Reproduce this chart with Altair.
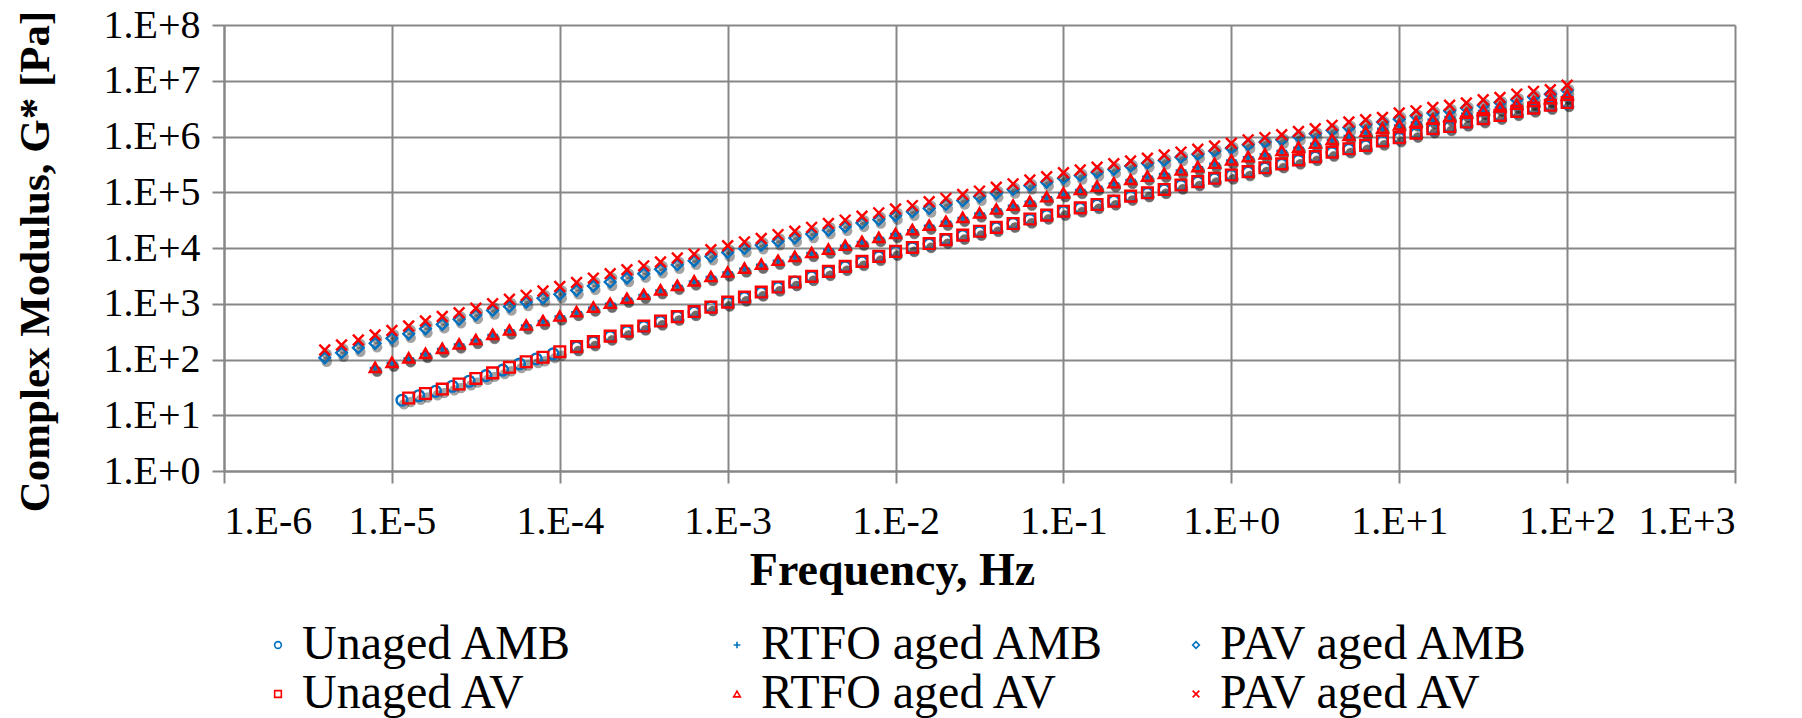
import altair as alt
import pandas as pd

# log10(frequency, Hz) grid shared by the series
LOG_FREQ = [-5.4, -5.3, -5.2, -5.1, -5.0, -4.9, -4.8, -4.7, -4.6, -4.5,
            -4.4, -4.3, -4.2, -4.1, -4.0, -3.9, -3.8, -3.7, -3.6, -3.5,
            -3.4, -3.3, -3.2, -3.1, -3.0, -2.9, -2.8, -2.7, -2.6, -2.5,
            -2.4, -2.3, -2.2, -2.1, -2.0, -1.9, -1.8, -1.7, -1.6, -1.5,
            -1.4, -1.3, -1.2, -1.1, -1.0, -0.9, -0.8, -0.7, -0.6, -0.5,
            -0.4, -0.3, -0.2, -0.1, 0.0, 0.1, 0.2, 0.3, 0.4, 0.5,
            0.6, 0.7, 0.8, 0.9, 1.0, 1.1, 1.2, 1.3, 1.4, 1.5,
            1.6, 1.7, 1.8, 1.9, 2.0]

UNAGED_AMB_LOG_FREQ = [-4.94, -4.84, -4.74, -4.64, -4.54, -4.44, -4.34, -4.24, -4.14, -4.04,
                       -3.9, -3.8, -3.7, -3.6, -3.5, -3.4, -3.3, -3.2, -3.1, -3.0,
                       -2.9, -2.8, -2.7, -2.6, -2.5, -2.4, -2.3, -2.2, -2.1, -2.0,
                       -1.9, -1.8, -1.7, -1.6, -1.5, -1.4, -1.3, -1.2, -1.1, -1.0,
                       -0.9, -0.8, -0.7, -0.6, -0.5, -0.4, -0.3, -0.2, -0.1, 0.0,
                       0.1, 0.2, 0.3, 0.4, 0.5, 0.6, 0.7, 0.8, 0.9, 1.0,
                       1.1, 1.2, 1.3, 1.4, 1.5, 1.6, 1.7, 1.8, 1.9, 2.0]

# log10(G*, Pa)
UNAGED_AMB = [1.27, 1.35, 1.43, 1.52, 1.61, 1.71, 1.81, 1.92, 2.01, 2.10,
              2.22, 2.31, 2.41, 2.50, 2.59, 2.68, 2.77, 2.85, 2.94, 3.02,
              3.11, 3.20, 3.29, 3.39, 3.48, 3.57, 3.66, 3.75, 3.84, 3.93,
              4.00, 4.07, 4.15, 4.22, 4.29, 4.36, 4.44, 4.51, 4.58, 4.65,
              4.71, 4.77, 4.84, 4.92, 4.98, 5.04, 5.12, 5.18, 5.24, 5.30,
              5.36, 5.43, 5.50, 5.57, 5.63, 5.71, 5.77, 5.83, 5.91, 5.97,
              6.05, 6.13, 6.17, 6.25, 6.31, 6.37, 6.44, 6.50, 6.55, 6.60]

RTFO_AMB = [1.85, 1.94, 2.02, 2.10, 2.19, 2.27, 2.35, 2.44, 2.52, 2.61,
            2.69, 2.77, 2.85, 2.93, 3.00, 3.09, 3.16, 3.24, 3.32, 3.40,
            3.48, 3.56, 3.63, 3.70, 3.77, 3.84, 3.91, 3.97, 4.04, 4.11,
            4.18, 4.25, 4.32, 4.40, 4.47, 4.54, 4.62, 4.69, 4.76, 4.83,
            4.91, 4.98, 5.04, 5.10, 5.16, 5.22, 5.28, 5.33, 5.39, 5.45,
            5.51, 5.57, 5.63, 5.68, 5.74, 5.80, 5.87, 5.94, 6.01, 6.08,
            6.14, 6.20, 6.25, 6.30, 6.35, 6.41, 6.46, 6.52, 6.57, 6.62,
            6.67, 6.73]

PAV_AMB = [2.03, 2.12, 2.21, 2.29, 2.38, 2.46, 2.55, 2.63, 2.72, 2.80,
           2.88, 2.95, 3.03, 3.10, 3.17, 3.24, 3.32, 3.39, 3.46, 3.54,
           3.62, 3.70, 3.77, 3.85, 3.92, 3.99, 4.05, 4.12, 4.18, 4.25,
           4.32, 4.38, 4.45, 4.51, 4.58, 4.65, 4.71, 4.78, 4.85, 4.92,
           4.98, 5.05, 5.12, 5.18, 5.25, 5.30, 5.36, 5.41, 5.47, 5.52,
           5.57, 5.63, 5.68, 5.74, 5.79, 5.85, 5.90, 5.94, 6.00, 6.05,
           6.11, 6.16, 6.21, 6.26, 6.31, 6.37, 6.42, 6.46, 6.51, 6.56,
           6.61, 6.66, 6.71, 6.76, 6.83]

UNAGED_AV = [1.31, 1.39, 1.47, 1.56, 1.66, 1.76, 1.86, 1.96, 2.04, 2.14,
             2.23, 2.32, 2.42, 2.51, 2.60, 2.69, 2.77, 2.86, 2.94, 3.03,
             3.12, 3.21, 3.30, 3.39, 3.49, 3.58, 3.67, 3.76, 3.85, 3.94,
             4.01, 4.08, 4.15, 4.23, 4.30, 4.37, 4.44, 4.52, 4.59, 4.66,
             4.72, 4.78, 4.84, 4.93, 4.99, 5.05, 5.13, 5.19, 5.25, 5.31,
             5.37, 5.44, 5.51, 5.58, 5.64, 5.72, 5.78, 5.84, 5.92, 5.98,
             6.06, 6.14, 6.18, 6.26, 6.32, 6.38, 6.45, 6.51, 6.56, 6.61]

RTFO_AV = [1.86, 1.95, 2.03, 2.11, 2.20, 2.28, 2.36, 2.45, 2.53, 2.62,
           2.70, 2.78, 2.86, 2.94, 3.01, 3.10, 3.17, 3.25, 3.33, 3.41,
           3.49, 3.57, 3.64, 3.71, 3.78, 3.85, 3.92, 3.98, 4.05, 4.12,
           4.19, 4.26, 4.33, 4.41, 4.48, 4.55, 4.63, 4.70, 4.77, 4.84,
           4.92, 4.99, 5.05, 5.11, 5.17, 5.23, 5.29, 5.34, 5.40, 5.46,
           5.52, 5.58, 5.64, 5.69, 5.75, 5.81, 5.88, 5.95, 6.02, 6.09,
           6.15, 6.21, 6.26, 6.31, 6.36, 6.42, 6.47, 6.53, 6.58, 6.63,
           6.68, 6.74]

PAV_AV = [2.17, 2.26, 2.35, 2.44, 2.52, 2.60, 2.69, 2.77, 2.84, 2.92,
          3.00, 3.08, 3.15, 3.23, 3.31, 3.38, 3.46, 3.54, 3.61, 3.68,
          3.75, 3.82, 3.89, 3.97, 4.04, 4.11, 4.17, 4.24, 4.30, 4.37,
          4.44, 4.50, 4.57, 4.63, 4.70, 4.76, 4.83, 4.89, 4.96, 5.02,
          5.09, 5.15, 5.22, 5.28, 5.35, 5.40, 5.45, 5.51, 5.56, 5.61,
          5.67, 5.72, 5.77, 5.83, 5.88, 5.94, 5.98, 6.03, 6.09, 6.14,
          6.20, 6.26, 6.30, 6.34, 6.42, 6.46, 6.52, 6.56, 6.60, 6.66,
          6.70, 6.76, 6.81, 6.84, 6.92]

SERIES = ["Unaged AMB", "RTFO aged AMB", "PAV aged AMB",
          "Unaged AV", "RTFO aged AV", "PAV aged AV"]
COLORS = ["#0070C0", "#0070C0", "#0070C0", "#FF0000", "#FF0000", "#FF0000"]
SHAPES = ["circle", "M-1,0L1,0M0,-1L0,1", "diamond",
          "square", "triangle-up", "M-1,-1L1,1M1,-1L-1,1"]

X_TICKS = [1e-6, 1e-5, 1e-4, 1e-3, 1e-2, 1e-1, 1e0, 1e1, 1e2, 1e3]
Y_TICKS = [1e0, 1e1, 1e2, 1e3, 1e4, 1e5, 1e6, 1e7, 1e8]

series_data = [
    ("Unaged AMB", UNAGED_AMB_LOG_FREQ, UNAGED_AMB),
    ("RTFO aged AMB", LOG_FREQ[len(LOG_FREQ) - len(RTFO_AMB):], RTFO_AMB),
    ("PAV aged AMB", LOG_FREQ[len(LOG_FREQ) - len(PAV_AMB):], PAV_AMB),
    ("Unaged AV", LOG_FREQ[len(LOG_FREQ) - len(UNAGED_AV):], UNAGED_AV),
    ("RTFO aged AV", LOG_FREQ[len(LOG_FREQ) - len(RTFO_AV):], RTFO_AV),
    ("PAV aged AV", LOG_FREQ[len(LOG_FREQ) - len(PAV_AV):], PAV_AV),
]

rows = []
order = 0
for name, lf, lg in series_data:
    assert len(lf) == len(lg), name
    for f, g in zip(lf, lg):
        rows.append({"series": name, "freq": 10 ** f, "g": 10 ** g, "order": order})
        order += 1
df = pd.DataFrame(rows)

FONT = "Liberation Serif"
GRID = "#878787"

label_expr = ("'1.E' + (datum.value >= 1 ? '+' : '-') + "
              "format(abs(round(log(datum.value) / LN10)), 'd')")

x_enc = alt.X("freq:Q",
              scale=alt.Scale(type="log", domain=[1e-6, 1e3], nice=False),
              axis=alt.Axis(values=X_TICKS, labelExpr=label_expr,
                            labelFont=FONT, labelFontSize=40, labelColor="black",
                            title="Frequency, Hz", titleX=668, titleY=99,
                            titleBaseline="middle", titleAlign="center",
                            titleFont=FONT, titleFontSize=46,
                            titleFontWeight="bold", titleColor="black",
                            labelPadding=18))
y_enc = alt.Y("g:Q",
              scale=alt.Scale(type="log", domain=[1, 1e8], nice=False),
              axis=alt.Axis(values=Y_TICKS, labelExpr=label_expr,
                            labelFont=FONT, labelFontSize=40, labelColor="black",
                            title="Complex Modulus, G* [Pa]", titleX=-189,
                            titleY=236, titleBaseline="middle",
                            titleAlign="center", titleAngle=-90,
                            titleFont=FONT, titleFontSize=43,
                            titleFontWeight="bold", titleColor="black",
                            labelPadding=12))

shadow = alt.Chart(df).mark_point(
    filled=True, color="#1a1a1a", opacity=0.4, size=110,
    xOffset=2, yOffset=4, shape="circle"
).encode(x=x_enc, y=y_enc, order="order:Q")

legend = alt.Legend(orient="none", legendX=30, legendY=596, columns=3,
                    direction="horizontal", title=None, labelFont=FONT,
                    labelFontSize=48, labelColor="black", labelLimit=800,
                    symbolSize=45, symbolStrokeWidth=1.6, labelOffset=0,
                    columnPadding=67, rowPadding=1, gridAlign="all",
                    padding=0)

points = alt.Chart(df).mark_point(
    filled=False, size=115, strokeWidth=2.4, opacity=1
).encode(
    x=x_enc, y=y_enc,
    color=alt.Color("series:N", sort=SERIES,
                    scale=alt.Scale(domain=SERIES, range=COLORS), legend=legend),
    shape=alt.Shape("series:N", sort=SERIES,
                    scale=alt.Scale(domain=SERIES, range=SHAPES), legend=legend),
    order="order:Q",
)

chart = alt.layer(shadow, points).properties(
    width=1511, height=446,
    autosize=alt.AutoSizeParams(type="none"),
    padding={"left": 224, "top": 25, "right": 67, "bottom": 247},
    background="white",
).configure(font=FONT).configure_view(stroke=None).configure_axis(
    grid=True, gridColor=GRID, gridWidth=2, gridOpacity=1,
    domainColor=GRID, domainWidth=2, tickColor=GRID, tickWidth=2,
    tickSize=12, labelFont=FONT, labelFontSize=40, labelColor="black",
    titleFont=FONT, titleFontSize=43, titleFontWeight="bold",
    titleColor="black",
)

chart.save("out.html", embed_options={"renderer": "svg", "actions": False})
